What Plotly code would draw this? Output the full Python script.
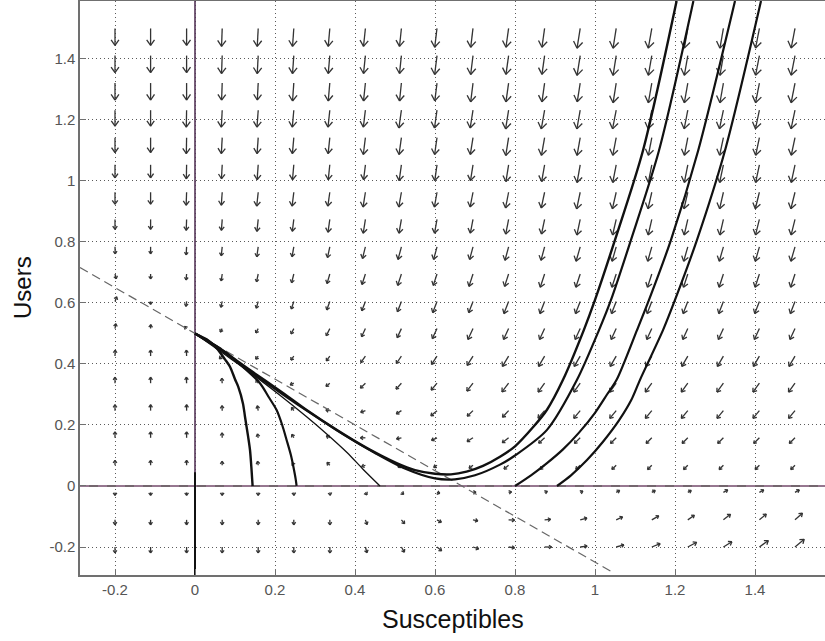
import math
import plotly.graph_objects as go

# ---------------- data ----------------
GRID_X = [-0.2, -0.111, -0.021, 0.068, 0.158, 0.247, 0.337, 0.426, 0.516, 0.605,
          0.695, 0.784, 0.874, 0.963, 1.053, 1.142, 1.232, 1.321, 1.411, 1.5]
# rows listed from top (1.5) to bottom (-0.2)
GRID_Y = [1.5, 1.411, 1.321, 1.232, 1.142, 1.053, 0.963, 0.874, 0.784, 0.695,
          0.605, 0.516, 0.426, 0.337, 0.247, 0.158, 0.068, -0.021, -0.111, -0.2]

# arrow lengths (as read, screen pixels) per grid row/column
ARROW_LEN = [
    [17,17,17,18,18,18,18,18,18,19,19,19,19,20,20,20,20,20,20,20],
    [17,17,17,18,18,18,18,18,18,19,19,19,19,20,20,20,20,20,20,20],
    [17,17,17,17,17,18,18,18,18,18,19,19,19,19,20,20,20,20,20,20],
    [16,16,17,17,17,17,17,17,18,18,18,19,19,19,19,19,19,19,19,19],
    [15,15,16,16,16,16,16,17,17,17,17,18,18,18,18,18,18,18,18,18],
    [13,13,14,14,15,15,15,15,16,16,16,17,17,18,18,18,18,18,18,18],
    [12,12,13,13,14,14,14,15,15,15,15,16,16,17,17,17,17,17,17,17],
    [10,10,11,11,12,12,13,14,14,14,14,15,15,16,16,16,16,16,16,16],
    [7,7,8,9,10,10,11,12,13,13,13,14,14,15,15,15,15,15,15,15],
    [5,5,6,7,8,9,10,11,12,12,13,13,14,14,14,14,14,14,14,14],
    [5,3,5,6,7,8,9,10,11,12,12,13,13,13,13,13,13,13,13,13],
    [5,4,3,4,5,6,8,9,10,11,12,12,12,12,12,12,12,12,12,12],
    [6,6,6,4,4,5,6,8,9,10,11,12,12,12,12,12,12,12,12,12],
    [6,6,6,5,4,4,5,7,8,9,10,11,11,11,11,11,11,11,11,11],
    [6,6,6,5,5,4,4,5,6,8,8,9,10,10,10,10,10,10,10,10],
    [6,6,6,5,4,4,4,5,5,6,7,8,8,8,8,8,8,8,8,8],
    [5,5,5,4,4,3,4,4,4,4,5,6,6,6,6,6,6,6,6,6],
    [3,3,3,3,3,3,3,3,3,3,3,3,3,3,4,4,4,5,5,5],
    [5,5,5,5,5,5,5,5,5,5,5,6,6,7,7,8,8,9,9,10],
    [6,6,6,6,6,6,6,6,6,6,6,6,7,7,8,9,10,10,11,12],
]
# arrow directions (degrees, 0 = right, 90 = up) per grid row/column
ARROW_ANG = [
    [-90,-90,-90,-92,-93,-94,-95,-96,-96,-97,-97,-98,-98,-99,-99,-100,-100,-100,-101,-101],
    [-90,-90,-90,-92,-93,-94,-95,-96,-96,-97,-97,-98,-98,-99,-99,-100,-100,-100,-101,-101],
    [-90,-90,-90,-92,-93,-94,-95,-96,-96,-97,-97,-98,-98,-99,-99,-100,-100,-100,-101,-101],
    [-90,-90,-91,-93,-94,-95,-96,-97,-98,-98,-99,-99,-100,-100,-101,-101,-101,-102,-102,-102],
    [-90,-90,-91,-93,-94,-95,-96,-97,-98,-98,-99,-99,-100,-100,-101,-101,-101,-102,-102,-102],
    [-90,-90,-91,-93,-94,-95,-96,-97,-98,-98,-99,-99,-100,-100,-101,-101,-101,-102,-102,-102],
    [-90,-90,-92,-94,-96,-97,-98,-99,-100,-100,-101,-101,-102,-102,-103,-103,-103,-103,-104,-104],
    [-90,-90,-92,-94,-96,-97,-98,-99,-100,-100,-101,-101,-102,-102,-103,-103,-103,-103,-104,-104],
    [-88,-90,-93,-96,-98,-100,-102,-104,-105,-105,-105,-105,-105,-106,-106,-106,-106,-106,-106,-106],
    [-75,-90,-95,-98,-102,-104,-106,-108,-108,-108,-108,-108,-108,-108,-108,-108,-108,-108,-108,-108],
    [70,-90,-98,-103,-106,-108,-110,-111,-111,-111,-111,-111,-111,-111,-111,-111,-111,-111,-111,-111],
    [80,88,135,-120,-118,-117,-116,-115,-115,-115,-115,-115,-115,-115,-115,-115,-115,-115,-115,-115],
    [88,90,92,-135,-128,-126,-125,-125,-124,-123,-122,-121,-120,-120,-120,-120,-120,-120,-120,-120],
    [90,90,92,95,120,-155,-140,-135,-132,-130,-128,-127,-126,-126,-126,-126,-126,-126,-126,-126],
    [90,90,90,92,100,125,170,-160,-148,-140,-136,-133,-131,-130,-130,-130,-130,-130,-130,-130],
    [90,90,90,92,100,120,150,180,-168,-155,-148,-142,-138,-136,-135,-135,-135,-135,-135,-135],
    [90,90,90,92,100,120,135,-160,-150,-145,-142,-140,-138,-137,-136,-135,-135,-135,-135,-135],
    [-90,-90,-90,-90,-90,-88,-80,-60,-40,-20,0,10,20,25,30,30,30,30,30,30],
    [-90,-90,-90,-90,-90,-90,-88,-70,-50,-30,-12,-3,5,15,25,30,35,38,40,42],
    [-90,-90,-90,-90,-90,-90,-88,-75,-60,-40,-18,-8,0,8,15,22,28,32,36,40],
]

# trajectories (Susceptibles, Users)
TRAJ1_X = [0, 0.03, 0.054, 0.075, 0.0875, 0.1, 0.108, 0.12, 0.125, 0.133, 0.1375, 0.141, 0.144]
TRAJ1_Y = [0.5, 0.48, 0.452, 0.415, 0.391, 0.35, 0.326, 0.27, 0.227, 0.16, 0.118, 0.06, 0.0]
TRAJ2_X = [0, 0.04, 0.079, 0.12, 0.1625, 0.185, 0.204, 0.218, 0.229, 0.24, 0.246, 0.252, 0.254]
TRAJ2_Y = [0.5, 0.47, 0.436, 0.39, 0.337, 0.29, 0.249, 0.2, 0.151, 0.1, 0.063, 0.02, 0.0]
TRAJ3_X = [0, 0.07, 0.14, 0.21, 0.279, 0.33, 0.38, 0.42, 0.4625]
TRAJ3_Y = [0.5, 0.435, 0.37, 0.3, 0.227, 0.17, 0.11, 0.055, 0.0]
TRAJA_X = [0, 0.054, 0.1375, 0.22, 0.279, 0.354, 0.429, 0.504, 0.55, 0.6, 0.64, 0.679, 0.72,
           0.7625, 0.8, 0.846, 0.88, 0.92, 0.972, 1.0, 1.05, 1.12, 1.204]
TRAJA_Y = [0.5, 0.457, 0.38, 0.305, 0.249, 0.184, 0.125, 0.075, 0.052, 0.04, 0.038, 0.047, 0.066,
           0.096, 0.13, 0.194, 0.25, 0.348, 0.511, 0.61, 0.807, 1.1, 1.59]
TRAJB_X = [0, 0.054, 0.1375, 0.22, 0.29, 0.37, 0.45, 0.52, 0.6, 0.65, 0.7, 0.7625, 0.8,
           0.88, 0.955, 1.01, 1.04, 1.09, 1.16, 1.246]
TRAJB_Y = [0.5, 0.455, 0.376, 0.3, 0.238, 0.17, 0.108, 0.06, 0.025, 0.022, 0.035, 0.07, 0.1,
           0.184, 0.348, 0.511, 0.61, 0.807, 1.1, 1.59]
TRAJC_X = [0.8, 0.84, 0.88, 0.92, 0.96, 1.0, 1.03, 1.054, 1.105, 1.135, 1.19, 1.258, 1.35]
TRAJC_Y = [0.0, 0.035, 0.075, 0.12, 0.175, 0.24, 0.3, 0.348, 0.511, 0.61, 0.807, 1.1, 1.59]
TRAJD_X = [0.905, 0.94, 0.98, 1.02, 1.06, 1.09, 1.1125, 1.17, 1.2, 1.255, 1.325, 1.415]
TRAJD_Y = [0.0, 0.035, 0.085, 0.145, 0.215, 0.28, 0.348, 0.511, 0.61, 0.807, 1.1, 1.59]

# dashed isocline
DASH_X = [-0.2875, 1.043]
DASH_Y = [0.716, -0.282]

X_TICKS = [-0.2, 0, 0.2, 0.4, 0.6, 0.8, 1, 1.2, 1.4]
Y_TICKS = [-0.2, 0, 0.2, 0.4, 0.6, 0.8, 1, 1.2, 1.4]
X_RANGE = [-0.2875, 1.575]
Y_RANGE = [-0.2918, 1.590]

# ---------------- layout geometry ----------------
W, H = 825, 641
ML, MR, MT, MB = 80, 0, 1, 66
PW, PH = W - ML - MR, H - MT - MB
PX_X = (X_RANGE[1] - X_RANGE[0]) / PW
PX_Y = (Y_RANGE[1] - Y_RANGE[0]) / PH

# ---------------- arrows ----------------
ax, ay = [], []
for i, yv in enumerate(GRID_Y):
    for j, xv in enumerate(GRID_X):
        L = ARROW_LEN[i][j]
        a = math.radians(ARROW_ANG[i][j])
        hx = xv + L * math.cos(a) * PX_X
        hy = yv + L * math.sin(a) * PX_Y
        ax += [xv, hx, None]
        ay += [yv, hy, None]
        hl = max(0.4 * L, 3.2)
        for s in (1, -1):
            b = a + math.pi + s * math.radians(35)
            ax += [hx, hx + hl * math.cos(b) * PX_X, None]
            ay += [hy, hy + hl * math.sin(b) * PX_Y, None]

fig = go.Figure()
fig.add_trace(go.Scatter(x=ax, y=ay, mode="lines",
                         line=dict(color="#333333", width=1.3), hoverinfo="skip"))

# axes lines through origin
fig.add_trace(go.Scatter(x=[X_RANGE[0], X_RANGE[1]], y=[0, 0], mode="lines",
                         line=dict(color="#74666e", width=2), hoverinfo="skip"))
fig.add_trace(go.Scatter(x=[X_RANGE[0], X_RANGE[1]], y=[0, 0], mode="lines",
                         line=dict(color="#e7a0e0", width=1, dash="dash"), opacity=0.6,
                         hoverinfo="skip"))
fig.add_trace(go.Scatter(x=[0, 0], y=[Y_RANGE[0], Y_RANGE[1]], mode="lines",
                         line=dict(color="#553558", width=1.6), hoverinfo="skip"))
fig.add_trace(go.Scatter(x=[0, 0], y=[Y_RANGE[0], 0.045], mode="lines",
                         line=dict(color="#111111", width=2), hoverinfo="skip"))

# dashed line
fig.add_trace(go.Scatter(x=DASH_X, y=DASH_Y, mode="lines",
                         line=dict(color="#666666", width=1.2, dash="9px,5px"),
                         hoverinfo="skip"))

# trajectories
for tx, ty, w in [(TRAJ1_X, TRAJ1_Y, 2.4), (TRAJ2_X, TRAJ2_Y, 2.2), (TRAJ3_X, TRAJ3_Y, 1.3),
                  (TRAJA_X, TRAJA_Y, 2.4), (TRAJB_X, TRAJB_Y, 2.2),
                  (TRAJC_X, TRAJC_Y, 2.2), (TRAJD_X, TRAJD_Y, 2.2)]:
    fig.add_trace(go.Scatter(x=tx, y=ty, mode="lines",
                             line=dict(color="#111111", width=w, shape="spline", smoothing=0.8),
                             hoverinfo="skip"))

axis_common = dict(
    showgrid=True, gridcolor="#5a5a5a", gridwidth=1, griddash="1px,3px",
    zeroline=False, showline=True, linecolor="#707070", linewidth=1.5,
    ticks="inside", ticklen=6, tickcolor="#707070",
    tickfont=dict(family="Liberation Sans, Arial", size=15, color="#555555"),
)
fig.update_xaxes(range=X_RANGE, tickvals=X_TICKS, ticktext=[f"{v:g}" for v in X_TICKS],
                 mirror=True, **axis_common)
fig.update_yaxes(range=Y_RANGE, tickvals=Y_TICKS, ticktext=[f"{v:g}" for v in Y_TICKS],
                 mirror=False, **axis_common)

fig.update_layout(
    width=W, height=H, margin=dict(l=ML, r=MR, t=MT, b=MB),
    paper_bgcolor="white", plot_bgcolor="white", showlegend=False,
    annotations=[
        dict(text="Susceptibles", x=0.5, y=0, xref="paper", yref="paper",
             xanchor="center", yanchor="top", yshift=-28, showarrow=False,
             font=dict(family="Liberation Sans, Arial", size=25, color="#111111")),
        dict(text="Users", x=0, y=0.5, xref="paper", yref="paper",
             xanchor="center", yanchor="middle", xshift=-58, textangle=-90, showarrow=False,
             font=dict(family="Liberation Sans, Arial", size=24, color="#111111")),
    ],
)

fig.write_html("out.html")
